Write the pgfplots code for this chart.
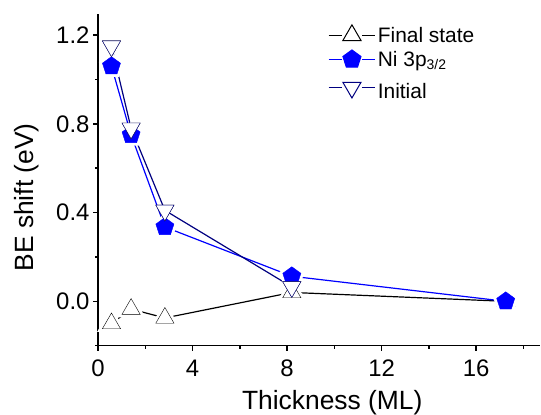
\documentclass[border=0pt]{standalone}
\usepackage{fontspec}
\setmainfont{Liberation Sans}
\usepackage{pgfplots}
\usepackage{pgfplotstable}
\pgfplotsset{compat=1.18}

\definecolor{niblue}{RGB}{0,0,255}
\definecolor{initnavy}{RGB}{0,0,128}

% BE shift (eV) against film thickness (ML)
\pgfplotstableread{
x y
0.57 -0.100
1.40 -0.035
2.83 -0.075
8.20 0.040
17.25 0.000
}\finalstate

\pgfplotstableread{
x y
0.57 1.060
1.40 0.750
2.83 0.335
8.20 0.113
17.25 0.000
}\nithreep

\pgfplotstableread{
x y
0.57 1.150
1.40 0.780
2.83 0.410
8.20 0.065
}\initial

% marker styles: a white halo under each symbol leaves a small gap in the lines
\pgfplotsset{
  halo/.style={only marks, forget plot, mark options={draw=white, fill=white, line width=6bp}},
  sym/.style={only marks, forget plot, mark options={line width=1bp}},
}

\begin{document}
\begin{tikzpicture}
\path[use as bounding box] (0,0) rectangle (541bp,415bp);
\begin{axis}[
  at={(98bp,69.3bp)}, anchor=south west,
  scale only axis, width=442bp, height=331.7bp,
  xmin=0, xmax=18.7, ymin=-0.2, ymax=1.295,
  axis x line*=bottom, axis y line*=left,
  axis line style={line width=1.5bp, black},
  tick align=outside, major tick length=5bp, minor tick length=3bp,
  every tick/.style={line width=1.5bp, black},
  xtick={0,4,8,12,16}, xticklabels={0,4,8,12,16},
  minor xtick={2,6,10,14,18},
  ytick={0,0.4,0.8,1.2}, yticklabels={0.0,0.4,0.8,1.2},
  minor ytick={-0.2,0.2,0.6,1.0},
  tick label style={font=\fontsize{24}{28}\selectfont},
  xticklabel style={yshift=-6bp},
  xlabel={Thickness (ML)}, ylabel={BE shift (eV)},
  label style={font=\fontsize{26.5}{30}\selectfont},
  xlabel style={at={(axis description cs:0.53,-0.191)}, anchor=base},
  ylabel style={at={(axis description cs:-0.145,0.447)}, anchor=base},
  clip=false,
  legend style={at={(axis description cs:0.52,0.968)}, anchor=north west,
    draw=none, fill=none, font=\fontsize{21}{25}\selectfont,
    inner sep=0pt, row sep=3.5bp},
  legend cell align=left,
  legend image code/.code={
    \draw[#1] (0bp,0bp) -- (13bp,0bp) (33.6bp,0bp) -- (46.6bp,0bp);
    \draw[#1] plot coordinates {(23.3bp,0bp)};
  },
]
% Final state
\addplot[black, line width=1.2bp, forget plot] table {\finalstate};
\addplot[halo, mark=triangle*, mark size=10.5bp] table {\finalstate};
\addplot[sym, mark=triangle*, mark size=10.5bp, mark options={draw=black, fill=white}] table {\finalstate};
% Ni 3p3/2
\addplot[niblue, line width=1.2bp, forget plot] table {\nithreep};
\addplot[halo, mark=pentagon*, mark size=9.5bp] table {\nithreep};
\addplot[sym, mark=pentagon*, mark size=9.5bp, mark options={draw=niblue, fill=niblue}] table {\nithreep};
% Initial state
\addplot[initnavy, line width=1.2bp, forget plot] table {\initial};
\addplot[halo, mark=triangle*, mark size=10.5bp, mark options={rotate=180}] table {\initial};
\addplot[sym, mark=triangle*, mark size=10.5bp, mark options={draw=initnavy, fill=white, rotate=180}] table {\initial};

\addlegendimage{black, line width=1.2bp, mark=triangle*, mark size=10.5bp, mark options={draw=black, fill=white, line width=1bp}}
\addlegendentry{Final state}
\addlegendimage{niblue, line width=1.2bp, mark=pentagon*, mark size=9.5bp, mark options={draw=niblue, fill=niblue, line width=1bp}}
\addlegendentry{Ni 3p\textsubscript{\fontsize{14}{16}\selectfont 3/2}}
\addlegendimage{initnavy, line width=1.2bp, mark=triangle*, mark size=10.5bp, mark options={draw=initnavy, fill=white, line width=1bp, rotate=180}}
\addlegendentry{\rule{0pt}{23bp}Initial}
\end{axis}
\end{tikzpicture}
\end{document}
